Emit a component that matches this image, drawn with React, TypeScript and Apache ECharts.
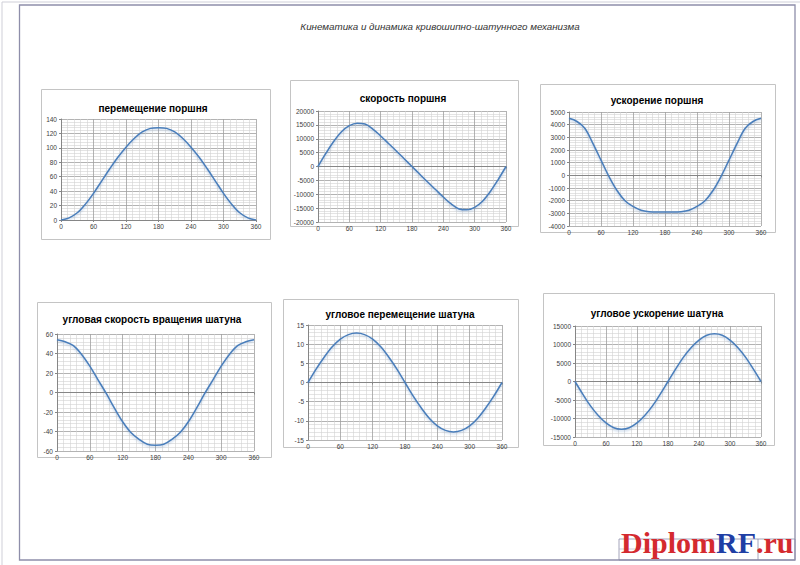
import React, { useEffect, useRef } from "react";
import * as echarts from "echarts";

const ANGLES = [0, 15, 30, 45, 60, 75, 90, 105, 120, 135, 150, 165, 180, 195, 210, 225, 240, 255, 270, 285, 300, 315, 330, 345, 360];

const pistonDisplacement = [0, 3, 10, 22, 37, 54, 71, 87, 101, 113, 122, 127, 128, 127, 122, 113, 101, 87, 71, 54, 37, 22, 10, 3, 0];
const pistonVelocity = [0, 4700, 9000, 12500, 14700, 15600, 15300, 13500, 11000, 8300, 5600, 2800, 0, -2800, -5600, -8300, -11000, -13500, -15300, -15600, -14700, -12500, -9000, -4700, 0];
const pistonAcceleration = [4500, 4250, 3700, 2500, 1200, -100, -1200, -2000, -2450, -2750, -2870, -2900, -2900, -2900, -2870, -2750, -2450, -2000, -1200, -100, 1200, 2500, 3700, 4250, 4500];
const rodAngularVelocity = [54, 52, 48, 39, 27, 13, -1, -16, -30, -41, -48, -53, -54, -53, -48, -41, -30, -16, -1, 13, 27, 39, 48, 52, 54];
const rodAngle = [0, 3.5, 6.6, 9.3, 11.3, 12.5, 12.9, 12.5, 11.3, 9.3, 6.6, 3.5, 0, -3.5, -6.6, -9.3, -11.3, -12.5, -12.9, -12.5, -11.3, -9.3, -6.6, -3.5, 0];
const rodAngularAcceleration = [0, -3400, -6600, -9200, -11200, -12500, -12900, -12500, -11200, -9200, -6600, -3400, 0, 3400, 6600, 9200, 11200, 12500, 12900, 12500, 11200, 9200, 6600, 3400, 0];

const X_TICKS = { min: 0, max: 360, interval: 60 };

const SHEET_TITLE = "Кинематика и динамика кривошипно-шатунного механизма";

const CHARTS = [
  { title: "перемещение поршня", data: pistonDisplacement, yMin: 0, yMax: 140, yInt: 20 },
  { title: "скорость поршня", data: pistonVelocity, yMin: -20000, yMax: 20000, yInt: 5000 },
  { title: "ускорение поршня", data: pistonAcceleration, yMin: -4000, yMax: 5000, yInt: 1000 },
  { title: "угловая скорость вращения шатуна", data: rodAngularVelocity, yMin: -60, yMax: 60, yInt: 20 },
  { title: "угловое перемещение шатуна", data: rodAngle, yMin: -15, yMax: 15, yInt: 5 },
  { title: "угловое ускорение шатуна", data: rodAngularAcceleration, yMin: -15000, yMax: 15000, yInt: 5000 },
];

// layout (pixels): box, plot area, title centre
const LAYOUT = [
  { box: [41, 89, 229, 150], plot: [61, 119, 195, 101], tc: [153, 108] },
  { box: [290, 80, 228, 146], plot: [318, 111, 188, 111], tc: [403, 98] },
  { box: [540, 84, 235, 148], plot: [569, 112, 192, 114], tc: [657, 100] },
  { box: [37, 302, 234, 155], plot: [57, 334, 197, 117], tc: [152, 319] },
  { box: [283, 299, 235, 148], plot: [308, 325, 194, 115], tc: [400, 314] },
  { box: [543, 293, 231, 152], plot: [575, 326, 186, 111], tc: [657, 313] },
];

const LINE_COLOR = "#4a7ebb";

export default function App() {
  const ref = useRef<HTMLDivElement>(null);
  useEffect(() => {
    if (!ref.current) return;
    const chart = echarts.init(ref.current, undefined, { renderer: "svg" });
    const labelStyle = { fontSize: 6.5, color: "#404040", fontFamily: "Liberation Sans" };

    const grids = LAYOUT.map((l) => ({
      left: l.plot[0],
      top: l.plot[1],
      width: l.plot[2],
      height: l.plot[3],
      containLabel: false,
    }));

    const xAxes = CHARTS.map((c, i) => ({
      type: "value",
      gridIndex: i,
      min: X_TICKS.min,
      max: X_TICKS.max,
      interval: X_TICKS.interval,
      axisLine: { show: true, onZero: true, lineStyle: { color: "#868686", width: 1 } },
      axisTick: { show: true, length: 2, lineStyle: { color: "#868686" } },
      axisLabel: { ...labelStyle, margin: 3, showMinLabel: true, showMaxLabel: true, formatter: (v: number) => String(v) },
      splitLine: { show: true, lineStyle: { color: "#a0a0a0", width: 0.8 } },
      minorTick: { show: false, splitNumber: 5 },
      minorSplitLine: { show: true, lineStyle: { color: "#d2d2d2", width: 0.6 } },
    }));

    const yAxes = CHARTS.map((c, i) => ({
      type: "value",
      gridIndex: i,
      min: c.yMin,
      max: c.yMax,
      interval: c.yInt,
      axisLine: { show: true, onZero: false, lineStyle: { color: "#868686", width: 1 } },
      axisTick: { show: true, length: 2, lineStyle: { color: "#868686" } },
      axisLabel: { ...labelStyle, margin: 4, formatter: (v: number) => String(v) },
      splitLine: { show: true, lineStyle: { color: "#a0a0a0", width: 0.8 } },
      minorTick: { show: false, splitNumber: 5 },
      minorSplitLine: { show: true, lineStyle: { color: "#d2d2d2", width: 0.6 } },
    }));

    const series = CHARTS.map((c, i) => ({
      type: "line",
      xAxisIndex: i,
      yAxisIndex: i,
      smooth: 0.35,
      showSymbol: false,
      data: ANGLES.map((a, k) => [a, c.data[k]]),
      lineStyle: {
        color: LINE_COLOR,
        width: 1.5,
        shadowColor: "rgba(74,126,187,0.35)",
        shadowBlur: 2,
        shadowOffsetY: 1.5,
      },
      z: 5,
    }));

    const graphic: any[] = [];
    // sheet border lines
    graphic.push({ type: "line", shape: { x1: 2, y1: 2, x2: 800, y2: 2 }, style: { stroke: "#cfcfd8", lineWidth: 1 } });
    graphic.push({ type: "line", shape: { x1: 2, y1: 2, x2: 2, y2: 565 }, style: { stroke: "#cfcfd8", lineWidth: 1 } });
    graphic.push({
      type: "rect",
      shape: { x: 19.5, y: 5, width: 775.5, height: 555 },
      style: { fill: "none", stroke: "#8e8eaa", lineWidth: 1.3 },
    });
    // title block stamp
    graphic.push({ type: "rect", shape: { x: 619, y: 539, width: 176, height: 21 }, style: { fill: "none", stroke: "#8e8eaa", lineWidth: 0.8 } });
    graphic.push({ type: "line", shape: { x1: 758, y1: 539, x2: 758, y2: 560 }, style: { stroke: "#8e8eaa", lineWidth: 0.8 } });
    graphic.push({ type: "line", shape: { x1: 619, y1: 549, x2: 660, y2: 549 }, style: { stroke: "#b0b0c0", lineWidth: 0.6 } });
    // sheet title
    graphic.push({
      type: "text",
      x: 440,
      y: 26,
      style: {
        text: SHEET_TITLE,
        fontFamily: "Liberation Sans",
        fontStyle: "italic",
        fontSize: 9.8,
        fill: "#333",
        textAlign: "center",
        textVerticalAlign: "middle",
      },
    });
    // chart boxes and titles
    LAYOUT.forEach((l, i) => {
      graphic.push({
        type: "rect",
        shape: { x: l.box[0] + 0.5, y: l.box[1] + 0.5, width: l.box[2], height: l.box[3] },
        style: { fill: "none", stroke: "#c4c4c4", lineWidth: 1 },
      });
      graphic.push({
        type: "text",
        x: l.tc[0],
        y: l.tc[1],
        style: {
          text: CHARTS[i].title,
          fontFamily: "Liberation Sans",
          fontWeight: "bold",
          fontSize: 10,
          fill: "#000",
          textAlign: "center",
          textVerticalAlign: "middle",
        },
      });
    });
    // watermark
    graphic.push({
      type: "text",
      x: 621,
      y: 557,
      z: 100,
      style: {
        text: "{r|Diplom}{b|RF}{r|.ru}",
        textVerticalAlign: "bottom",
        rich: {
          r: { fontFamily: "Liberation Serif", fontSize: 30, fontWeight: "bold", fill: "#d42a2f" },
          b: { fontFamily: "Liberation Serif", fontSize: 30, fontWeight: "bold", fill: "#1f3fa5" },
        },
      },
    });

    chart.setOption({
      animation: false,
      backgroundColor: "#ffffff",
      grid: grids,
      xAxis: xAxes,
      yAxis: yAxes,
      series,
      graphic,
    } as any);
    return () => chart.dispose();
  }, []);
  return <div ref={ref} style={{ position: "fixed", left: 0, top: 0, width: 800, height: 565 }} />;
}
